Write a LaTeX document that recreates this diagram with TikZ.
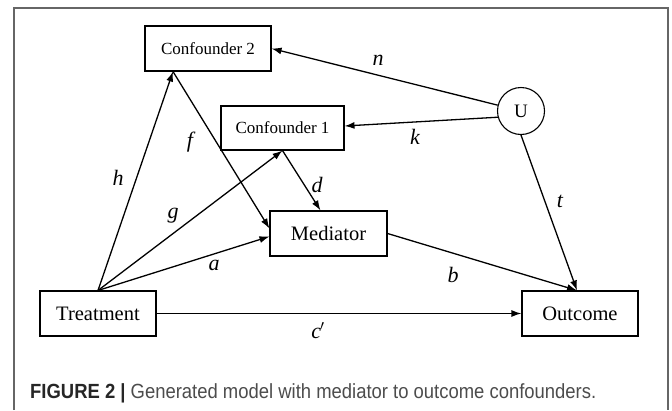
\documentclass[tikz,border=0pt]{standalone}
\usepackage{graphicx}
\usepackage{fontspec}
\setmainfont{Liberation Serif}
\newfontfamily\capfont{Liberation Sans}
\usetikzlibrary{arrows.meta}
\definecolor{framegray}{gray}{0.4}
\definecolor{capgray}{gray}{0.3}

\begin{document}
\begin{tikzpicture}[x=1pt,y=-1pt,
  var/.style={draw,line width=1.1pt,inner sep=0pt,minimum height=45pt,minimum width=#1,font=\fontsize{20.5}{23}\selectfont},
  conf/.style={var=#1,font=\fontsize{17}{20}\selectfont},
  latent/.style={draw,circle,line width=1.1pt,inner sep=0pt,minimum size=47pt,font=\fontsize{19}{22}\selectfont},
  eff/.style={line width=1.3pt,-{Latex[length=10pt,width=7pt]}},
  coef/.style={anchor=base,font=\fontsize{22}{24}\selectfont\itshape}]
  \useasboundingbox (0,0) rectangle (672,410);
  \draw[framegray,line width=1.3pt] (14,410) -- (14,8) -- (668,8) -- (668,410);

  \node[conf=126pt] (conf2) at (208,48.5) {Confounder 2};
  \node[conf=123pt,minimum height=44pt] (conf1) at (282.5,128) {Confounder 1};
  \node[latent] (U) at (521,111) {U};
  \node[var=117pt] (med) at (328.5,233.5) {Mediator};
  \node[var=116pt] (treat) at (98,313.5) {Treatment};
  \node[var=116pt] (outc) at (580,313.5) {Outcome};

  \draw[eff] (treat.north) -- ([xshift=-35pt]conf2.south);
  \draw[eff] (treat.north) -- (conf1.south);
  \draw[eff] (treat.north) -- ([yshift=-3pt]med.west);
  \draw[eff] ([xshift=-35pt]conf2.south) -- ([yshift=5pt]med.west);
  \draw[eff] (conf1.south) -- ([xshift=-8pt]med.north);
  \draw[eff] (med.east) -- ([xshift=-3pt]outc.north);
  \draw[eff] (U.south) -- ([xshift=-3pt]outc.north);
  \draw[eff] (U) -- (conf2.east);
  \draw[eff] (U.195) -- ([yshift=2pt]conf1.east);
  \draw[eff] (treat.east) -- (outc.west);

  \node[coef] (lh) at (118,185) {h};
  \node[coef] (lf) at (190,147) {f};
  \node[coef] (lg) at (173,218) {g};
  \node[coef] (la) at (214,270) {a};
  \node[coef] (ld) at (317,192) {d};
  \node[coef] (ln) at (378,65) {n};
  \node[coef] (lk) at (415,144) {k};
  \node[coef] (lt) at (560,207) {t};
  \node[coef] (lb) at (453,282) {b};
  \node[coef] (lc) at (318,338) {c\kern-1pt$'$};

  \node[anchor=base west,inner sep=0pt,font=\capfont\fontsize{20.5}{24}\selectfont,text=capgray] (cap) at (30,398)
    {\scalebox{0.9}[1]{{\color{black!85}\textbf{FIGURE 2 |}} Generated model with mediator to outcome confounders.}};
\end{tikzpicture}
\end{document}
